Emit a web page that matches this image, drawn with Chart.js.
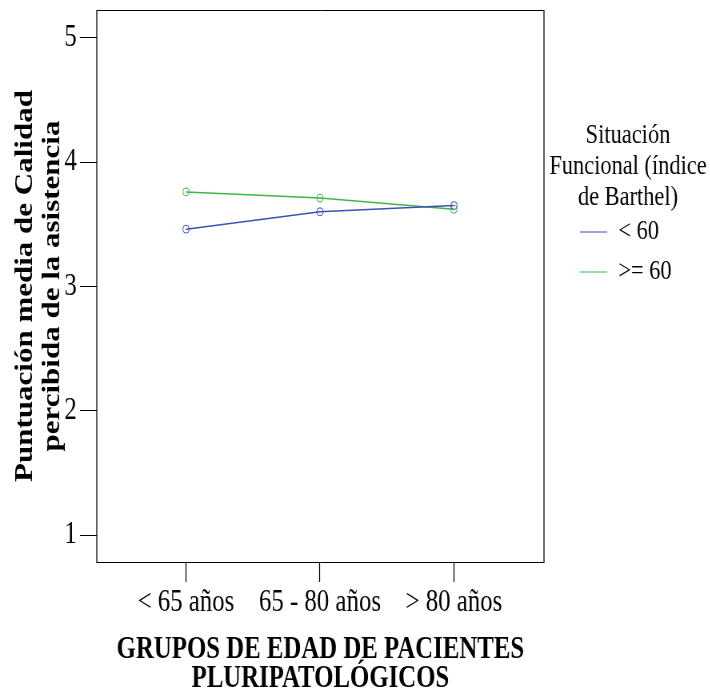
<!DOCTYPE html>
<html><head><meta charset="utf-8">
<script src="https://cdn.jsdelivr.net/npm/chart.js@4.4.1/dist/chart.umd.min.js"></script>
<style>
html,body{margin:0;padding:0;background:#fff;overflow:hidden}
#wrap{width:710px;height:688px;overflow:hidden;position:relative;background:#fff}
#inner{width:888px;height:688px;transform:scaleX(0.8);transform-origin:0 0}
</style></head><body>
<div id="wrap"><div id="inner"><canvas id="c" width="888" height="688"></canvas></div></div>
<script>
// ---- data ----
const categories = ['< 65 años', '65 - 80 años', '> 80 años'];
const seriesLabels = ['< 60', '>= 60'];
const valuesBelow60 = [3.46, 3.60, 3.65];
const valuesAtLeast60 = [3.76, 3.71, 3.62];
const yTickValues = [1, 2, 3, 4, 5];
const yAxisTitle = ['Puntuación media de Calidad', 'percibida de la asistencia'];
const xAxisTitle = ['GRUPOS DE EDAD DE PACIENTES', 'PLURIPATOLÓGICOS'];
const legendTitle = ['Situación', 'Funcional (índice', 'de Barthel)'];

const FONT = "'Liberation Serif', 'Times New Roman', serif";
const BLUE = '#3d4fb4';
const GREEN = '#3db54a';

const toPoints = vals => vals.map((v, i) => ({x: i, y: v}));

const framePlugin = {
  id: 'frameAndLegendPlace',
  beforeLayout(chart) {
    const lg = chart.legend;
    if (lg && !lg._fixedFit) {
      const orig = lg.fit.bind(lg);
      lg.fit = function () { orig(); this.width = 208; };
      lg.draw = function () { if (this.options.display) this._draw(); };
      lg._fixedFit = true;
    }
  },
  afterLayout(chart) {
    const lg = chart.legend;
    if (!lg) return;
    lg.left = 713; lg.width = 144; lg.right = 857;
    lg.top = 0; lg.height = 688; lg.bottom = 688;
  },
  beforeDatasetsDraw(chart) {
    const {ctx, chartArea: a} = chart;
    ctx.save();
    ctx.strokeStyle = '#000';
    ctx.lineWidth = 1;
    ctx.beginPath();
    ctx.moveTo(a.left, a.top + 0.5); ctx.lineTo(a.right, a.top + 0.5);
    ctx.moveTo(a.left, a.bottom + 0.5); ctx.lineTo(a.right, a.bottom + 0.5);
    ctx.stroke();
    ctx.lineWidth = 1.25;
    ctx.beginPath();
    ctx.moveTo(a.left, a.top); ctx.lineTo(a.left, a.bottom + 1);
    ctx.moveTo(a.right, a.top); ctx.lineTo(a.right, a.bottom + 1);
    ctx.stroke();
    ctx.restore();
  }
};

new Chart(document.getElementById('c'), {
  type: 'line',
  data: {
    datasets: [
      {label: seriesLabels[0], data: toPoints(valuesBelow60), borderColor: BLUE, backgroundColor: BLUE, pointBorderColor: BLUE},
      {label: seriesLabels[1], data: toPoints(valuesAtLeast60), borderColor: GREEN, backgroundColor: GREEN, pointBorderColor: GREEN}
    ]
  },
  options: {
    responsive: false,
    animation: false,
    devicePixelRatio: 1,
    layout: {padding: {top: 10, left: 0, right: 0, bottom: 0}},
    elements: {
      line: {borderWidth: 1.5, tension: 0, fill: false},
      point: {radius: 4, hoverRadius: 4, borderWidth: 1}
    },
    datasets: {line: {pointBackgroundColor: 'rgba(0,0,0,0)', clip: false}},
    scales: {
      x: {
        type: 'linear',
        min: -0.666, max: 2.672,
        afterBuildTicks: s => { s.ticks = categories.map((c, i) => ({value: i})); },
        afterFit: s => { s.height = 126; s.paddingLeft = 0; s.paddingRight = 0; },
        grid: {display: true, drawOnChartArea: false, drawTicks: true, tickLength: 20, tickWidth: 1.25, tickColor: '#000'},
        border: {display: false},
        ticks: {
          autoSkip: false, maxRotation: 0, minRotation: 0, padding: 2,
          color: '#000', font: {family: FONT, size: 31},
          callback: v => categories[v]
        },
        title: {
          display: true, text: xAxisTitle, color: '#000',
          font: {family: FONT, size: 31, weight: 'bold', lineHeight: 0.935},
          padding: {top: 0, bottom: -5}
        }
      },
      y: {
        type: 'linear',
        min: 0.783, max: 5.223,
        afterBuildTicks: s => { s.ticks = yTickValues.map(v => ({value: v})); },
        afterFit: s => { s.width = 121; s.paddingTop = 0; s.paddingBottom = 0; },
        grid: {display: true, drawOnChartArea: false, drawTicks: true, tickLength: 21, tickWidth: 1, tickColor: '#000'},
        border: {display: false},
        ticks: {
          padding: 4, color: '#000', font: {family: FONT, size: 31},
          callback: v => String(v)
        },
        title: {
          display: true, text: yAxisTitle, color: '#000',
          font: {family: FONT, size: 31, weight: 'bold', lineHeight: 1.1},
          padding: {top: 15, bottom: 0}
        }
      }
    },
    plugins: {
      tooltip: {enabled: false},
      legend: {
        display: true,
        position: 'right',
        align: 'start',
        title: {
          display: true, text: legendTitle, color: '#000',
          font: {family: FONT, size: 28, lineHeight: 31 / 28},
          padding: {top: 121.5, bottom: 53.5}
        },
        labels: {
          color: '#000',
          font: {family: FONT, size: 28},
          usePointStyle: true,
          pointStyle: 'line',
          pointStyleWidth: 34,
          padding: 12,
          generateLabels: chart => Chart.defaults.plugins.legend.labels.generateLabels(chart)
            .map(l => {
              const c = chart.data.datasets[l.datasetIndex].borderColor;
              return Object.assign(l, {lineWidth: 1, pointStyle: 'line', strokeStyle: c, fillStyle: c});
            })
        }
      }
    }
  },
  plugins: [framePlugin]
});
</script>
</body></html>
